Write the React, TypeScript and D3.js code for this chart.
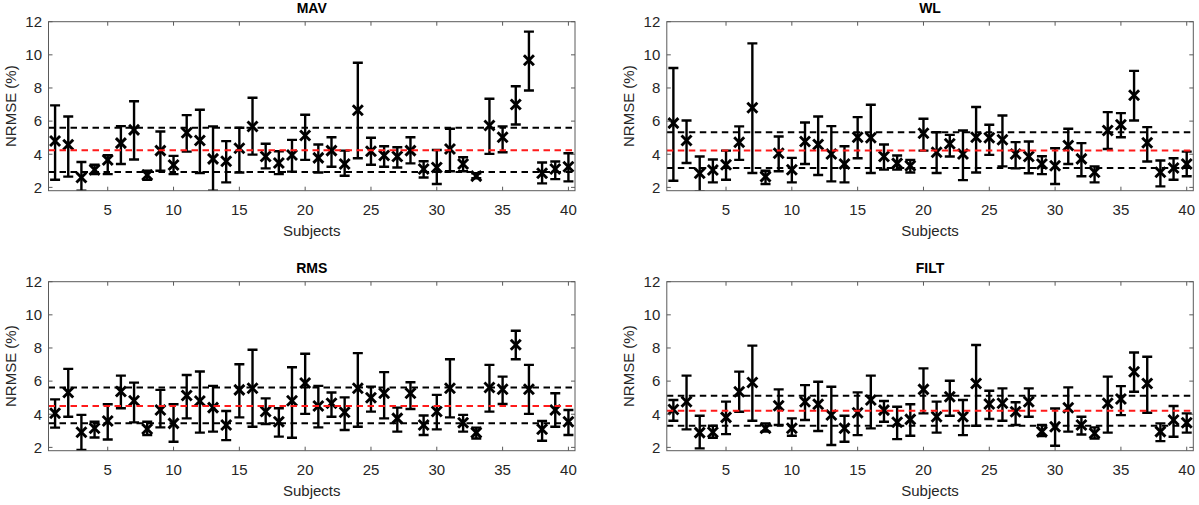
import React from "react";
import * as d3 from "d3";

const subjects = d3.range(1, 41);
const xTicks = [5, 10, 15, 20, 25, 30, 35, 40];
const yTicks = [2, 4, 6, 8, 10, 12];
const panelTitles = ["MAV", "WL", "RMS", "FILT"];

const mavMean = [4.8,4.57,2.6,3.07,3.65,4.67,5.47,2.75,4.22,3.35,5.3,4.83,3.72,3.58,4.36,5.68,3.86,3.47,3.96,5.13,3.78,4.22,3.41,6.65,4.18,3.92,3.86,4.22,3.11,3.2,4.32,3.41,2.68,5.74,5.03,7.0,9.67,2.85,3.11,3.25];
const mavUpper = [6.95,6.28,3.53,3.37,3.94,5.7,7.2,3.0,5.37,3.9,6.36,6.69,5.68,4.79,5.6,7.41,4.63,4.18,4.87,6.38,4.59,5.03,4.22,9.52,5.0,4.48,4.42,5.03,3.58,4.26,5.54,3.82,2.85,7.35,5.68,8.1,11.4,3.5,3.56,4.06];
const mavLower = [2.46,2.65,1.8,2.8,2.8,3.41,3.68,2.46,3.0,2.8,4.16,2.87,1.8,2.3,2.9,3.98,3.15,2.8,2.95,3.66,2.9,3.25,2.7,3.76,3.37,3.25,3.2,3.45,2.6,2.2,2.97,2.97,2.55,4.02,4.12,5.8,7.85,2.24,2.5,2.36];
const mavLines = [5.6, 4.24, 2.93];

const wlMean = [5.88,4.83,2.85,3.05,3.37,4.73,6.81,2.65,4.06,3.07,4.77,4.59,4.02,3.41,5.03,4.99,3.86,3.45,3.31,5.27,4.12,4.63,4.02,5.03,4.99,4.87,4.02,3.86,3.41,3.31,4.53,3.72,2.91,5.43,5.78,7.56,4.69,2.91,3.17,3.41];
const wlUpper = [9.21,6.04,3.86,3.68,4.22,5.68,10.69,3.0,5.07,3.78,5.92,6.28,5.7,4.48,6.24,6.99,4.59,3.92,3.66,6.14,5.33,5.17,5.43,6.85,5.78,6.34,4.73,4.77,3.88,4.36,5.54,4.67,3.27,6.54,6.48,9.03,5.64,3.62,3.76,4.16];
const wlLower = [2.4,3.47,1.75,2.3,2.46,3.66,2.87,2.2,2.97,2.3,3.41,2.75,2.36,2.3,3.76,2.87,3.07,3.07,2.9,4.22,2.87,3.86,2.44,2.9,3.96,3.27,3.15,2.85,2.8,2.2,3.41,2.67,2.3,4.32,5.03,6.04,3.56,2.06,2.46,2.67];
const wlLines = [5.33, 4.22, 3.17];

const rmsMean = [4.06,5.31,2.91,3.15,3.59,5.37,4.82,3.11,4.26,3.45,5.13,4.8,4.4,3.35,5.47,5.57,4.16,3.55,4.82,5.89,4.5,4.66,4.12,5.57,5.0,5.27,3.75,5.27,3.35,4.16,5.57,3.49,2.89,5.61,5.51,8.19,5.51,3.09,4.26,3.55];
const rmsUpper = [4.9,6.74,3.96,3.55,4.6,6.33,5.91,3.55,5.47,4.6,6.37,6.58,5.71,4.2,7.02,7.89,4.96,4.36,6.84,7.65,5.71,5.31,5.02,7.69,5.67,6.54,4.4,5.93,3.92,5.17,7.32,3.96,3.19,6.98,6.27,9.04,6.98,3.59,5.27,4.26];
const rmsLower = [3.19,3.85,1.84,2.6,2.48,4.36,3.51,2.75,3.21,2.34,3.75,2.89,2.95,2.44,3.81,3.25,3.41,2.65,2.58,4.02,3.21,3.85,3.05,3.25,4.16,3.75,2.95,4.32,2.75,3.09,3.81,2.95,2.54,4.16,4.62,7.32,4.02,2.4,3.25,2.75];
const rmsLines = [5.61, 4.5, 3.45];

const filtMean = [4.29,4.76,2.89,2.91,3.81,5.36,5.92,3.15,4.51,3.15,4.76,4.6,3.95,3.15,4.09,4.86,4.25,3.52,3.69,5.5,3.85,5.06,3.85,5.86,4.62,4.66,4.15,4.76,2.95,3.25,4.39,3.35,2.85,4.66,4.92,6.57,5.86,2.95,3.65,3.49];
const filtUpper = [4.86,6.33,3.91,3.31,4.76,6.57,8.14,3.45,5.5,3.75,5.76,5.96,5.66,3.91,5.32,6.33,4.8,4.45,4.6,6.77,4.76,6.02,4.86,8.18,5.42,5.56,4.72,5.56,3.35,4.35,5.62,3.85,3.21,6.27,5.7,7.73,7.47,3.45,4.5,4.05];
const filtLower = [3.61,3.09,1.94,2.58,2.8,4.15,3.61,2.95,3.35,2.7,3.65,2.99,2.14,2.34,2.74,3.15,3.55,2.5,2.7,4.05,2.89,3.91,2.74,3.31,3.71,3.61,3.35,3.85,2.68,2.1,2.95,2.78,2.54,2.89,3.95,5.36,4.09,2.38,2.64,2.89];
const filtLines = [5.12, 4.21, 3.31];

const W = 1199;
const H = 505;
const PW = 526.5;
const PH = 169;
const FONT = "'Liberation Sans', Arial, Helvetica, sans-serif";
const TXT = "#262626";
const AX = "#5a5a5a";

const panels = [
  { title: panelTitles[0], mean: mavMean, upper: mavUpper, lower: mavLower, lines: mavLines, left: 48.5, top: 21.7 },
  { title: panelTitles[1], mean: wlMean, upper: wlUpper, lower: wlLower, lines: wlLines, left: 666.8, top: 21.7 },
  { title: panelTitles[2], mean: rmsMean, upper: rmsUpper, lower: rmsLower, lines: rmsLines, left: 48.5, top: 281.7 },
  { title: panelTitles[3], mean: filtMean, upper: filtUpper, lower: filtLower, lines: filtLines, left: 666.8, top: 281.7 },
];

function Panel({ p, idx }: { p: any; idx: number }) {
  const x = d3.scaleLinear().domain([0.5, 40.5]).range([0, PW]);
  const y = d3.scaleLinear().domain([1.8, 12]).range([PH, 0]);
  const clipId = `clip${idx}`;
  const cap = 5;
  const mk = 5;
  const lineColors = ["#000000", "#ff1a1a", "#000000"];
  return (
    <g transform={`translate(${p.left},${p.top})`}>
      <defs>
        <clipPath id={clipId}>
          <rect x={0} y={0} width={PW} height={PH} />
        </clipPath>
      </defs>
      <rect x={0} y={0} width={PW} height={PH} fill="#fff" />
      <g clipPath={`url(#${clipId})`}>
        {subjects.map((s, i) => {
          const cx = x(s);
          const yu = y(p.upper[i]);
          const yl = y(p.lower[i]);
          const ym = y(p.mean[i]);
          return (
            <g key={s} stroke="#000" fill="none">
              <line x1={cx} x2={cx} y1={yu} y2={yl} strokeWidth={2.4} />
              <line x1={cx - cap} x2={cx + cap} y1={yu} y2={yu} strokeWidth={2.4} />
              <line x1={cx - cap} x2={cx + cap} y1={yl} y2={yl} strokeWidth={2.4} />
              <line x1={cx - mk} x2={cx + mk} y1={ym - mk} y2={ym + mk} strokeWidth={2.9} />
              <line x1={cx - mk} x2={cx + mk} y1={ym + mk} y2={ym - mk} strokeWidth={2.9} />
            </g>
          );
        })}
        {p.lines.map((v: number, k: number) => (
          <line
            key={k}
            x1={0}
            x2={PW}
            y1={y(v)}
            y2={y(v)}
            stroke={lineColors[k]}
            strokeWidth={2}
            strokeDasharray="6.5,4.5"
          />
        ))}
      </g>
      <rect x={0} y={0} width={PW} height={PH} fill="none" stroke={AX} strokeWidth={1} />
      {xTicks.map((t) => (
        <g key={`x${t}`}>
          <line x1={x(t)} x2={x(t)} y1={PH} y2={PH - 4} stroke={AX} />
          <line x1={x(t)} x2={x(t)} y1={0} y2={4} stroke={AX} />
          <text x={x(t)} y={PH + 24} textAnchor="middle" fontSize={15} fill={TXT} fontFamily={FONT}>
            {t}
          </text>
        </g>
      ))}
      {yTicks.map((t) => (
        <g key={`y${t}`}>
          <line x1={0} x2={4} y1={y(t)} y2={y(t)} stroke={AX} />
          <line x1={PW} x2={PW - 4} y1={y(t)} y2={y(t)} stroke={AX} />
          <text x={-6.5} y={y(t)} dy="0.36em" textAnchor="end" fontSize={15} fill={TXT} fontFamily={FONT}>
            {t}
          </text>
        </g>
      ))}
      <text x={PW / 2} y={-8.3} textAnchor="middle" fontSize={14} fontWeight="bold" fill="#000" fontFamily={FONT}>
        {p.title}
      </text>
      <text x={PW / 2} y={PH + 45} textAnchor="middle" fontSize={15} fill={TXT} fontFamily={FONT}>
        Subjects
      </text>
      <text
        transform={`translate(${-32.5},${PH / 2}) rotate(-90)`}
        textAnchor="middle"
        fontSize={15}
        fill={TXT}
        fontFamily={FONT}
      >
        NRMSE (%)
      </text>
    </g>
  );
}

export default function App() {
  return (
    <div style={{ position: "absolute", left: 0, top: 0, width: W, height: H, background: "#fff" }}>
      <svg width={W} height={H} viewBox={`0 0 ${W} ${H}`} style={{ display: "block" }}>
        <rect x={0} y={0} width={W} height={H} fill="#fff" />
        {panels.map((p, i) => (
          <Panel key={p.title} p={p} idx={i} />
        ))}
      </svg>
    </div>
  );
}
